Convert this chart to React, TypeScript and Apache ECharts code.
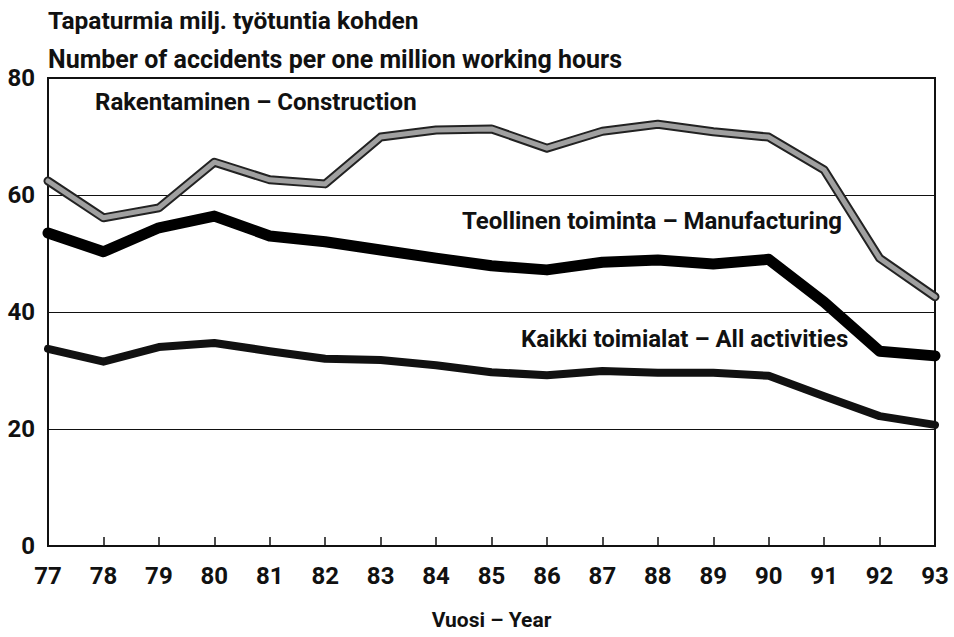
import React, { useEffect, useRef } from "react";
import * as echarts from "echarts";

const years = ["77", "78", "79", "80", "81", "82", "83", "84", "85", "86", "87", "88", "89", "90", "91", "92", "93"];
const construction = [62.4, 56.1, 57.8, 65.6, 62.6, 61.9, 69.9, 71.1, 71.3, 68.0, 70.9, 72.1, 70.8, 69.9, 64.3, 49.2, 42.6];
const manufacturing = [53.5, 50.3, 54.4, 56.4, 53.0, 52.0, 50.6, 49.2, 47.9, 47.2, 48.5, 48.9, 48.2, 49.0, 41.7, 33.3, 32.5];
const allActivities = [33.7, 31.5, 34.0, 34.7, 33.3, 32.0, 31.8, 30.9, 29.7, 29.2, 29.9, 29.6, 29.6, 29.1, 25.6, 22.2, 20.7];
const yTicks = [0, 20, 40, 60, 80];

const FONT = "'Roboto', sans-serif";

export default function App() {
  const ref = useRef<HTMLDivElement>(null);
  useEffect(() => {
    document.body.style.margin = "0";
    const chart = echarts.init(ref.current!, null, { renderer: "svg" });
    const txt = (text: string, left: number, top: number, size = 24) => ({
      type: "text",
      left,
      top,
      style: { text, font: `bold ${size}px ${FONT}`, fill: "#111" },
    });
    chart.setOption({
      animation: false,
      backgroundColor: "#fff",
      grid: { left: 48, right: 19, top: 78, bottom: 91, show: true, borderColor: "#111", borderWidth: 2, backgroundColor: "transparent" },
      xAxis: {
        type: "category",
        data: years,
        boundaryGap: false,
        axisLine: { lineStyle: { color: "#111", width: 2 } },
        axisTick: { inside: true, length: 9, lineStyle: { color: "#111", width: 1.5 } },
        axisLabel: { margin: 18, color: "#111", fontFamily: FONT, fontWeight: "bold", fontSize: 24 },
        splitLine: { show: false },
        name: "Vuosi – Year",
        nameLocation: "middle",
        nameGap: 63,
        nameTextStyle: { color: "#111", fontFamily: FONT, fontWeight: "bold", fontSize: 21 },
      },
      yAxis: {
        type: "value",
        min: yTicks[0],
        max: yTicks[yTicks.length - 1],
        interval: 20,
        axisLine: { show: false },
        axisTick: { show: false },
        axisLabel: { margin: 13, color: "#111", fontFamily: FONT, fontWeight: "bold", fontSize: 24 },
        splitLine: { lineStyle: { color: "#111", width: 1.2 } },
      },
      graphic: [
        txt("Tapaturmia milj. työtuntia kohden", 48, 8, 24.5),
        txt("Number of accidents per one million working hours", 48, 47, 25),
        txt("Rakentaminen – Construction", 95, 90),
        txt("Teollinen toiminta – Manufacturing", 462, 209),
        txt("Kaikki toimialat – All activities", 521, 327),
      ],
      series: [
        {
          type: "line", data: allActivities, showSymbol: false, z: 3,
          lineStyle: { color: "#111", width: 8, cap: "round", join: "round" },
        },
        {
          type: "line", data: manufacturing, showSymbol: false, z: 3,
          lineStyle: { color: "#000", width: 11, cap: "round", join: "round" },
        },
        {
          type: "line", data: construction, showSymbol: false, z: 3,
          lineStyle: { color: "#222", width: 9, cap: "round", join: "round" },
        },
        {
          type: "line", data: construction, showSymbol: false, z: 4,
          lineStyle: { color: "#a0a0a0", width: 5, cap: "round", join: "round" },
        },
      ],
    });
    return () => chart.dispose();
  }, []);
  return <div ref={ref} style={{ width: 954, height: 637, position: "absolute", left: 0, top: 0 }} />;
}
